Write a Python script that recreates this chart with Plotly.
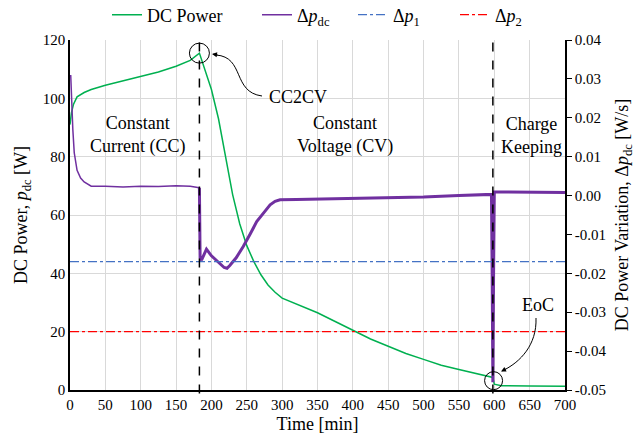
import plotly.graph_objects as go

# ---- data ----
power_t = [0, 2, 5, 10, 20, 30, 50, 75, 100, 125, 150, 170, 183, 190, 200, 210, 220, 230, 240, 250,
           260, 270, 280, 290, 300, 320, 350, 375, 400, 425, 450, 475, 500, 525, 550, 575, 595, 598,
           600, 610, 650, 700]
power_w = [91, 95, 98, 100.5, 102, 103, 104.5, 106, 107.5, 109, 111, 113, 115.5, 110, 103, 93, 80, 67, 57, 49.5,
           44, 39.5, 36, 33.5, 31.5, 29.5, 26.5, 23.5, 20.5, 17.5, 15, 12.5, 10.5, 8.5, 7, 5.7, 4.6, 4.3,
           2, 1.5, 1.4, 1.3]

cc_t = [1, 2, 4, 6, 10, 15, 20, 30, 50, 75, 100, 125, 150, 170, 182, 183]
cc_dp = [0.031, 0.025, 0.017, 0.011, 0.0065, 0.0045, 0.0035, 0.0024, 0.0024, 0.0022, 0.0024, 0.0023,
         0.0025, 0.0024, 0.0021, 0.0020]

cv_t = [183, 184, 186, 193, 200, 210, 218, 222, 226, 235, 245, 255, 264, 275, 283, 290, 297, 320, 344,
        368, 400, 450, 500, 550, 580, 596, 597, 598, 599, 600, 620, 650, 700]
cv_dp = [0.0020, -0.0160, -0.0166, -0.0138, -0.0155, -0.0172, -0.0185, -0.0187, -0.0180, -0.0160, -0.0131,
         -0.0098, -0.0067, -0.0042, -0.0024, -0.0015, -0.0011, -0.0010, -0.0009, -0.0009, -0.0008, -0.0006,
         -0.0004, 0.0000, 0.0002, 0.0003, -0.020, -0.048, -0.020, 0.0009, 0.0009, 0.0008, 0.0008]

dp1 = -0.017
dp2 = -0.035
t_range = [0, 700]

x_ticks = list(range(0, 701, 50))
y_ticks = [0, 20, 40, 60, 80, 100, 120]
y2_ticks = [0.04, 0.03, 0.02, 0.01, 0.0, -0.01, -0.02, -0.03, -0.04, -0.05]
y2_labels = ["0.04", "0.03", "0.02", "0.01", "0.00", "-0.01", "-0.02", "-0.03", "-0.04", "-0.05"]

t_cc2cv = 183
t_eoc = 598

# ---- figure ----
FONT = "Liberation Serif"
GREEN = "#00B050"
PURPLE = "#7030A0"
BLUE = "#4472C4"
RED = "#FF0000"

W, H = 636, 436
L, R, T, B = 70, 71, 40, 46
PW, PH = W - L - R, H - T - B


def px(xp):
    return (xp - L) / PW


def py(yp):
    return (H - B - yp) / PH


fig = go.Figure()
fig.add_trace(go.Scatter(x=power_t, y=power_w, mode="lines", name="DC Power", legend="legend",
                         line=dict(color=GREEN, width=1.5)))
fig.add_trace(go.Scatter(x=cc_t, y=cc_dp, mode="lines", name="Δ<i>p</i><sub>dc</sub>", legend="legend2",
                         yaxis="y2", legendgroup="dp", line=dict(color=PURPLE, width=1.5)))
fig.add_trace(go.Scatter(x=cv_t, y=cv_dp, mode="lines", name="Δ<i>p</i><sub>dc</sub>", legend="legend2",
                         yaxis="y2", legendgroup="dp", showlegend=False,
                         line=dict(color=PURPLE, width=3)))
fig.add_trace(go.Scatter(x=t_range, y=[dp1, dp1], mode="lines", name="Δ<i>p</i><sub>1</sub>",
                         legend="legend3",
                         yaxis="y2", line=dict(color=BLUE, width=1.3, dash="dashdot")))
fig.add_trace(go.Scatter(x=t_range, y=[dp2, dp2], mode="lines", name="Δ<i>p</i><sub>2</sub>",
                         legend="legend4",
                         yaxis="y2", line=dict(color=RED, width=1.3, dash="dashdot")))

shapes = []
for tv in (t_cc2cv, t_eoc):
    shapes.append(dict(type="line", xref="x", yref="paper", x0=tv, x1=tv, y0=-0.01, y1=1,
                       line=dict(color="black", width=1.5, dash="dash")))
shapes.append(dict(type="circle", xref="x", yref="y", xsizemode="pixel", ysizemode="pixel",
                   xanchor=t_cc2cv, yanchor=115.5, x0=-10, x1=10, y0=-10, y1=10,
                   line=dict(color="black", width=1)))
shapes.append(dict(type="circle", xref="x", yref="y", xsizemode="pixel", ysizemode="pixel",
                   xanchor=t_eoc + 1, yanchor=3.2, x0=-9, x1=9, y0=-9, y1=9,
                   line=dict(color="black", width=1)))


def bez(p0, c1, c2, p3):
    return "M {} {} C {} {}, {} {}, {} {}".format(px(p0[0]), py(p0[1]), px(c1[0]), py(c1[1]),
                                                  px(c2[0]), py(c2[1]), px(p3[0]), py(p3[1]))


shapes.append(dict(type="path", xref="paper", yref="paper",
                   path=bez((262, 96), (232, 92), (245, 57), (216, 55)),
                   line=dict(color="black", width=1)))
shapes.append(dict(type="path", xref="paper", yref="paper",
                   path=bez((536, 318), (537, 345), (520, 362), (504, 370)),
                   line=dict(color="black", width=1)))

tfont = dict(family=FONT, size=18, color="black")


def lab(xp, yp, text):
    return dict(x=px(xp), y=py(yp), xref="paper", yref="paper", text=text, showarrow=False,
                xanchor="center", yanchor="middle", font=tfont)


annotations = [
    lab(137, 135, "Constant<br>Current (CC)"),
    lab(345, 135, "Constant<br>Voltage (CV)"),
    lab(531, 135, "Charge<br>Keeping"),
    lab(298, 97, "CC2CV"),
    lab(538, 305, "EoC"),
    dict(x=px(212), y=py(54), xref="paper", yref="paper", text="", showarrow=True,
         ax=7, ay=1, arrowhead=2, arrowsize=1, arrowwidth=1, arrowcolor="black", standoff=0),
    dict(x=px(501), y=py(371.5), xref="paper", yref="paper", text="", showarrow=True,
         ax=6, ay=-3, arrowhead=2, arrowsize=1, arrowwidth=1, arrowcolor="black", standoff=0),
]


def leg(xpix):
    return dict(orientation="h", xref="container", yref="container", x=xpix / W, xanchor="left",
                y=1 - 15 / H, yanchor="middle", font=dict(family=FONT, size=18, color="black"),
                itemwidth=30, bgcolor="rgba(0,0,0,0)", borderwidth=0)


fig.update_layout(
    width=W, height=H,
    margin=dict(l=L, r=R, t=T, b=B, autoexpand=False),
    paper_bgcolor="white", plot_bgcolor="white",
    font=dict(family=FONT, size=15, color="black"),
    showlegend=True,
    legend=leg(107), legend2=leg(257), legend3=leg(353), legend4=leg(455),
    xaxis=dict(range=t_range, tickvals=x_ticks, showgrid=True, gridcolor="#d9d9d9", gridwidth=1,
               showline=True, linecolor="black", linewidth=1.5, ticks="", zeroline=False,
               automargin=False,
               title=dict(text="Time [min]", font=dict(size=18), standoff=6),
               tickfont=dict(size=15)),
    yaxis=dict(range=[0, 120], tickvals=y_ticks, showgrid=True, gridcolor="#d9d9d9", gridwidth=1,
               showline=True, linecolor="black", linewidth=1.5, ticks="", zeroline=False,
               automargin=False,
               title=dict(text="DC Power, <i>p</i><sub>dc</sub> [W]", font=dict(size=18), standoff=10),
               tickfont=dict(size=15)),
    yaxis2=dict(range=[-0.05, 0.04], overlaying="y", side="right", tickvals=y2_ticks,
                ticktext=y2_labels, showgrid=False, showline=True, linecolor="black", linewidth=1.5,
                ticks="outside", ticklen=5, tickcolor="black", zeroline=False, automargin=False,
                title=dict(text="DC Power Variation, Δ<i>p</i><sub>dc</sub> [W/s]", font=dict(size=18),
                           standoff=10),
                tickfont=dict(size=15)),
    shapes=shapes,
    annotations=annotations,
)

fig.write_html("out.html")
